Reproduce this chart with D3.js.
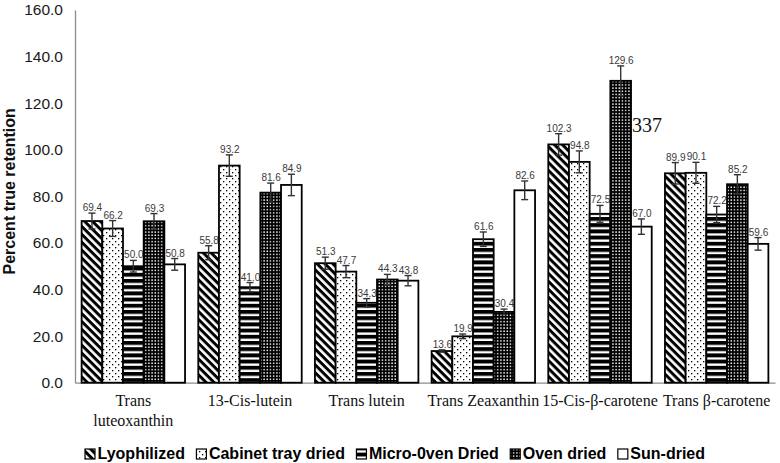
<!DOCTYPE html>
<html>
<head>
<meta charset="utf-8">
<script src="https://cdn.jsdelivr.net/npm/d3@7"></script>
<style>
  html, body { margin: 0; padding: 0; background: #fff; }
  svg { display: block; }
</style>
</head>
<body>
<svg id="chart" width="780" height="463"></svg>
<script>
// ---- data ----
const categories = ["Trans luteoxanthin", "13-Cis-lutein", "Trans lutein", "Trans Zeaxanthin", "15-Cis-β-carotene", "Trans β-carotene"];
const seriesNames = ["Lyophilized", "Cabinet tray dried", "Micro-0ven Dried", "Oven dried", "Sun-dried"];
const lyophilized = [69.4, 55.8, 51.3, 13.6, 102.3, 89.9];
const cabinetTray = [66.2, 93.2, 47.7, 19.9, 94.8, 90.1];
const microOven   = [50.0, 41.0, 34.3, 61.6, 72.5, 72.2];
const ovenDried   = [69.3, 81.6, 44.3, 30.4, 129.6, 85.2];
const sunDried    = [50.8, 84.9, 43.8, 82.6, 67.0, 59.6];
const lyophilizedErr = [3.4, 3.0, 2.6, 0.5, 4.6, 4.6];
const cabinetTrayErr = [3.4, 4.6, 2.6, 1.0, 4.7, 4.5];
const microOvenErr   = [2.5, 2.0, 1.8, 3.1, 3.6, 3.5];
const ovenDriedErr   = [3.3, 4.1, 2.2, 1.2, 6.4, 4.1];
const sunDriedErr    = [2.5, 4.6, 2.2, 4.0, 3.3, 2.7];
const yTicks = [0, 20, 40, 60, 80, 100, 120, 140, 160];
const annotationText = "337";

const seriesValues = [lyophilized, cabinetTray, microOven, ovenDried, sunDried];
const seriesErrors = [lyophilizedErr, cabinetTrayErr, microOvenErr, ovenDriedErr, sunDriedErr];
const patternIds = ["p-lyo", "p-cab", "p-micro", "p-oven", "p-sun"];

const svg = d3.select("#chart");
const defs = svg.append("defs");

// ---- patterns ----
const pl = defs.append("pattern").attr("id", "p-lyo").attr("patternUnits", "userSpaceOnUse")
  .attr("width", 5.6).attr("height", 5.6).attr("patternTransform", "rotate(45)");
pl.append("rect").attr("width", 5.6).attr("height", 5.6).attr("fill", "#fff");
pl.append("rect").attr("width", 5.6).attr("height", 3.0).attr("fill", "#000");

const pc = defs.append("pattern").attr("id", "p-cab").attr("patternUnits", "userSpaceOnUse")
  .attr("width", 6).attr("height", 6);
pc.append("rect").attr("width", 6).attr("height", 6).attr("fill", "#fff");
pc.append("rect").attr("x", 1).attr("y", 1).attr("width", 1.3).attr("height", 1.3).attr("fill", "#000");
pc.append("rect").attr("x", 4).attr("y", 4).attr("width", 1.3).attr("height", 1.3).attr("fill", "#000");

const pm = defs.append("pattern").attr("id", "p-micro").attr("patternUnits", "userSpaceOnUse")
  .attr("width", 6).attr("height", 6.2);
pm.append("rect").attr("width", 6).attr("height", 6.2).attr("fill", "#fff");
pm.append("rect").attr("width", 6).attr("height", 3.9).attr("fill", "#000");

const po = defs.append("pattern").attr("id", "p-oven").attr("patternUnits", "userSpaceOnUse")
  .attr("width", 3.2).attr("height", 3.2);
po.append("rect").attr("width", 3.2).attr("height", 3.2).attr("fill", "#000");
po.append("rect").attr("x", 1).attr("y", 1).attr("width", 1.4).attr("height", 1.4).attr("fill", "#fff");

const ps = defs.append("pattern").attr("id", "p-sun").attr("patternUnits", "userSpaceOnUse")
  .attr("width", 4).attr("height", 4);
ps.append("rect").attr("width", 4).attr("height", 4).attr("fill", "#fff");

// ---- scales ----
const plotLeft = 75, plotRight = 775, plotTop = 10, plotBottom = 382.7;
const x0 = d3.scaleBand().domain(categories).range([plotLeft, plotRight]).padding(0);
const x1 = d3.scaleBand().domain(seriesNames).range([0, x0.bandwidth()]).paddingInner(0).paddingOuter(0.32);
const y = d3.scaleLinear().domain([0, 160]).range([plotBottom, plotTop]);

// ---- y tick labels ----
const yAxis = d3.axisLeft(y).tickValues(yTicks).tickFormat(d3.format(".1f")).tickSize(0).tickPadding(12);
const yg = svg.append("g").attr("transform", `translate(${plotLeft},0)`).call(yAxis);
yg.select(".domain").attr("stroke", "#8c8c8c").attr("stroke-width", 1.3);
yg.selectAll("text").attr("font-family", "'Liberation Sans', Arial, sans-serif")
  .attr("font-size", 15.5).attr("fill", "#1a1a1a");

// ---- x axis line ----
const xAxis = d3.axisBottom(x0).tickSize(0).tickFormat("");
const xg = svg.append("g").attr("transform", `translate(0,${plotBottom})`).call(xAxis);
xg.select(".domain").attr("stroke", "#8c8c8c").attr("stroke-width", 1.3);

// ---- x category labels (Times) ----
const catG = svg.append("g");
categories.forEach(c => {
  const cx = x0(c) + x0.bandwidth() / 2;
  const t = catG.append("text").attr("x", cx).attr("y", 406)
    .attr("text-anchor", "middle").attr("font-family", "'Liberation Serif', 'Times New Roman', serif")
    .attr("font-size", 16).attr("fill", "#111");
  if (c === "Trans luteoxanthin") {
    t.append("tspan").attr("x", cx).attr("dy", 0).text("Trans");
    t.append("tspan").attr("x", cx).attr("dy", 19.5).text("luteoxanthin");
  } else {
    t.text(c);
  }
});

// ---- bars, labels, error bars (series drawn in order) ----
const capW = 7;
seriesNames.forEach((s, si) => {
  const g = svg.append("g");
  const vals = seriesValues[si], errs = seriesErrors[si];
  const data = categories.map((c, ci) => ({ c, v: vals[ci], e: errs[ci] }));
  const cxOf = d => x0(d.c) + x1(s) + x1.bandwidth() / 2;
  g.selectAll("rect.bar").data(data).join("rect").attr("class", "bar")
    .attr("x", d => x0(d.c) + x1(s))
    .attr("y", d => y(d.v))
    .attr("width", x1.bandwidth())
    .attr("height", d => y(0) - y(d.v))
    .attr("fill", `url(#${patternIds[si]})`)
    .attr("stroke", "#000").attr("stroke-width", 1.8);
  g.selectAll("text.lbl").data(data).join("text").attr("class", "lbl")
    .attr("x", d => cxOf(d) + 0.5)
    .attr("y", d => y(d.v + d.e) - 2)
    .attr("text-anchor", "middle")
    .attr("font-family", "'Liberation Sans', Arial, sans-serif")
    .attr("font-size", 10).attr("fill", "#3a3a3a")
    .text(d => d3.format(".1f")(d.v));
  const eg = g.selectAll("g.err").data(data).join("g").attr("class", "err")
    .attr("stroke", "#333").attr("stroke-width", 1.4);
  eg.append("line")
    .attr("x1", cxOf).attr("x2", cxOf)
    .attr("y1", d => y(d.v + d.e)).attr("y2", d => y(d.v - d.e));
  [1, -1].forEach(sign => {
    eg.append("line")
      .attr("x1", d => cxOf(d) - capW / 2)
      .attr("x2", d => cxOf(d) + capW / 2)
      .attr("y1", d => y(d.v + sign * d.e)).attr("y2", d => y(d.v + sign * d.e));
  });
});

// ---- annotation "337" next to the 15-Cis Oven dried bar ----
svg.append("text")
  .attr("x", x0(categories[4]) + x1(seriesNames[3]) + x1.bandwidth() + 1)
  .attr("y", y(107.5))
  .attr("font-family", "'Liberation Serif', 'Times New Roman', serif")
  .attr("font-size", 20).attr("fill", "#111")
  .text(annotationText);

// ---- y axis title ----
svg.append("text")
  .attr("transform", `translate(15,${(plotTop + plotBottom) / 2 - 5}) rotate(-90)`)
  .attr("text-anchor", "middle")
  .attr("font-family", "'Liberation Sans', Arial, sans-serif")
  .attr("font-weight", "bold").attr("font-size", 16).attr("fill", "#111")
  .text("Percent true retention");

// ---- legend ----
const legend = svg.append("g");
let lx = 85;
const swatch = 10, baseY = 459;
seriesNames.forEach((s, si) => {
  legend.append("rect").attr("x", lx).attr("y", baseY - 10).attr("width", swatch).attr("height", swatch)
    .attr("fill", `url(#${patternIds[si]})`).attr("stroke", "#000").attr("stroke-width", 1.2);
  const t = legend.append("text").attr("x", lx + swatch + 2.5).attr("y", baseY)
    .attr("font-family", "'Liberation Sans', Arial, sans-serif")
    .attr("font-weight", "bold").attr("font-size", 16).attr("fill", "#000").text(s);
  lx = lx + swatch + 2.5 + t.node().getComputedTextLength() + 11.5;
});
</script>
</body>
</html>
